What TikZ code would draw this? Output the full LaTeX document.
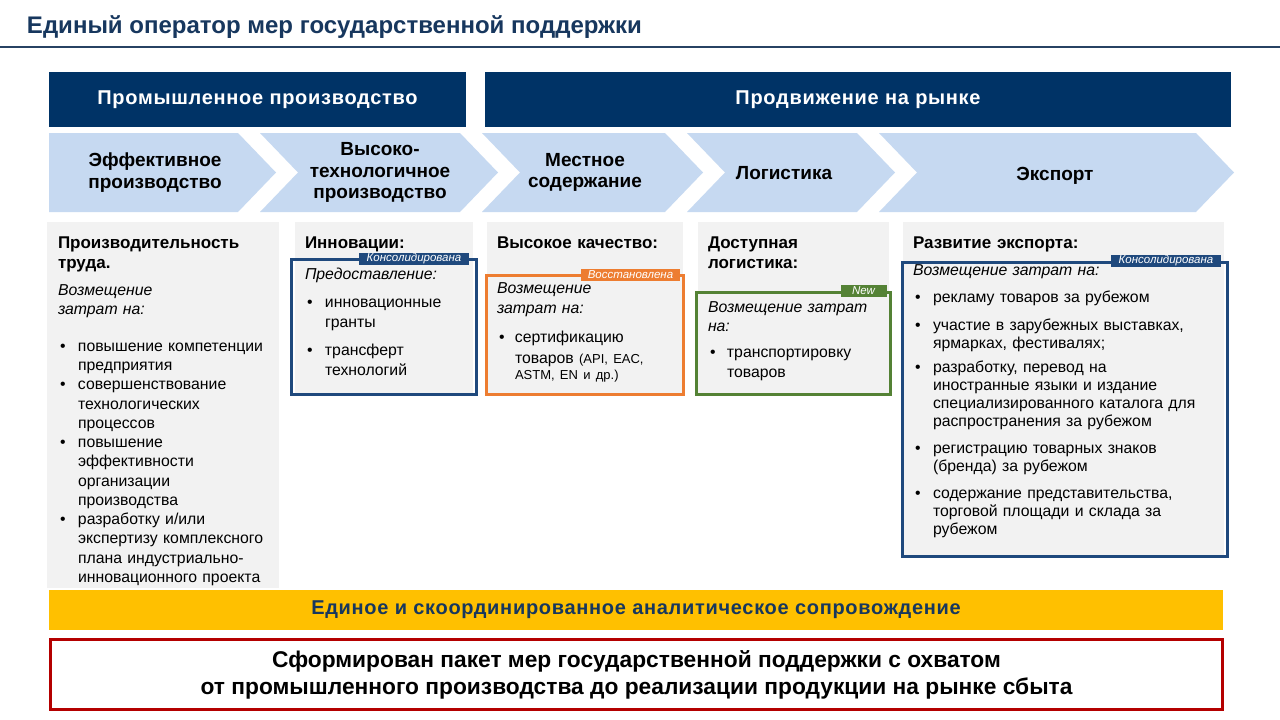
\documentclass[tikz,border=0pt]{standalone}
\usepackage{fontspec}
\setmainfont{Liberation Sans}
\usetikzlibrary{positioning}

\definecolor{donkerblauw}{HTML}{003366}
\definecolor{titelblauw}{HTML}{17375E}
\definecolor{pijlblauw}{HTML}{C6D9F1}
\definecolor{vakgrijs}{HTML}{F2F2F2}
\definecolor{randblauw}{HTML}{1F497D}
\definecolor{randoranje}{HTML}{ED7D31}
\definecolor{randgroen}{HTML}{548235}
\definecolor{balkgeel}{HTML}{FFC000}
\definecolor{randrood}{HTML}{B40000}

\setlength{\parindent}{0pt}
\newlength{\puntin}
\setlength{\puntin}{20pt}
\makeatletter
\newcommand{\punt}[1]{\par\hangindent=\puntin\hangafter=1\noindent\makebox[\puntin][l]{\hspace{2pt}•}{\let\\\@normalcr #1}\par}
\makeatother
\newcommand{\extra}[1]{\par\vspace{#1}}

\begin{document}
\begin{tikzpicture}[
		x=1pt, y=-1pt,
		every node/.style={inner sep=0pt, outer sep=0pt},
		% Stijlen
		kop/.style={fill=donkerblauw, text=white, minimum height=55, font=\fontsize{20}{22}\selectfont\bfseries\addfontfeature{LetterSpace=3.5}},
		pijl/.style={fill=pijlblauw},
		pijltekst/.style={align=center, font=\fontsize{19}{21.5}\selectfont\bfseries},
		vak/.style={fill=vakgrijs},
		kader/.style={draw=#1, line width=3pt},
		stempel/.style={fill=#1, text=white, minimum height=12, font=\fontsize{11.5}{12}\selectfont\itshape},
		kopje/.style={anchor=base west, align=left, text width=225, font=\fontsize{17}{20}\selectfont\bfseries},
		tekst/.style={anchor=base west, align=left, text width=300, font=\fontsize{15.8}{19.25}\selectfont}
	]

	% --- Canvas ---
	\useasboundingbox (0,0) rectangle (1280,720);
	\fill[white] (0,0) rectangle (1280,720);

	% --- 1. TITEL ---
	\node[anchor=base west, text=titelblauw, font=\fontsize{24}{28}\selectfont\bfseries] (Titel) at (27,33) {Единый оператор мер государственной поддержки};
	\draw[line width=2pt, titelblauw!85!gray] (0,47) -- (1280,47);

	% --- 2. KOPBALKEN ---
	\node[kop, minimum width=417] (KopIndustrie) at (257.5,99.5) {Промышленное производство};
	\node[kop, minimum width=746] (KopMarkt) at (858,99.5) {Продвижение на рынке};

	% --- 3. PIJLEN ---
	\def\pTop{133}   % Bovenkant pijl
	\def\pBot{212}   % Onderkant pijl
	\def\pMid{172.5} % Punt
	\def\pD{38}      % Diepte punt
	% eerste pijl heeft een vlakke linkerkant
	\fill[pijl] (49,\pTop) -- (238,\pTop) -- (238+\pD,\pMid) -- (238,\pBot) -- (49,\pBot) -- cycle;
	\foreach \l/\r in {260/460, 482/665, 687/857, 879/1196}
		\fill[pijl] (\l,\pTop) -- (\r,\pTop) -- (\r+\pD,\pMid) -- (\r,\pBot) -- (\l,\pBot) -- (\l+\pD,\pMid) -- cycle;

	\node[pijltekst] (PijlEffectief) at (155,\pMid) {Эффективное\\производство};
	\node[pijltekst] (PijlHightech) at (380,\pMid) {Высоко-\\технологичное\\производство};
	\node[pijltekst] (PijlLokaal) at (585,\pMid) {Местное\\содержание};
	\node[pijltekst] (PijlLogistiek) at (784,173.5) {Логистика};
	\node[pijltekst] (PijlExport) at (1055,176) {Экспорт};

	% --- 4. KOLOMMEN ---
	\fill[vak] (47,222) rectangle (279,588);
	\fill[vak] (295,222) rectangle (473,395);
	\fill[vak] (487,222) rectangle (683,395);
	\fill[vak] (698,222) rectangle (889,395);
	\fill[vak] (903,222) rectangle (1224,557);

	% kaders rond de maatregelen
	\draw[kader=randblauw] (291.5,259) rectangle (476.5,394.5);
	\draw[kader=randoranje] (486.5,275) rectangle (683.5,394.5);
	\draw[kader=randgroen] (696,292) rectangle (890.5,394.5);
	\draw[kader=randblauw] (902.5,262) rectangle (1227.5,556);

	% stempels op de kaders
	\node[stempel=randblauw, minimum width=110] (StempelInnovatie) at (414,258.5) {Консолидирована};
	\node[stempel=randoranje, minimum width=99] (StempelKwaliteit) at (630.5,275) {Восстановлена};
	\node[stempel=randgroen, minimum width=46] (StempelLogistiek) at (863.5,291) {New};
	\node[stempel=randblauw, minimum width=110] (StempelExport) at (1166,261) {Консолидирована};

	% Kolom 1
	\node[kopje] (KopArbeid) at (58,248) {Производительность\\труда.};
	\node[tekst] (TekstArbeid) at (58,295) {{\itshape Возмещение\\затрат на:}\extra{17.75pt}
		\punt{повышение компетенции\\предприятия}
		\punt{совершенствование\\технологических\\процессов}
		\punt{повышение\\эффективности\\организации\\производства}
		\punt{разработку и/или\\экспертизу комплексного\\плана индустриально-\\инновационного проекта}};

	% Kolom 2
	\node[kopje] (KopInnovatie) at (305,248) {Инновации:};
	\node[tekst, font=\fontsize{15.8}{20}\selectfont] (TekstInnovatie) at (305,279) {{\itshape Предоставление:}\extra{8pt}
		\punt{инновационные\\гранты}\extra{8pt}
		\punt{трансферт\\технологий}};

	% Kolom 3
	\node[kopje] (KopKwaliteit) at (497,248) {Высокое качество:};
	\node[tekst, font=\fontsize{15.8}{20.5}\selectfont] (TekstKwaliteit) at (497,293) {\setlength{\puntin}{18pt}{\itshape Возмещение\\затрат на:}\extra{8.5pt}
		\punt{сертификацию\\товаров {\fontsize{13}{15}\selectfont (API, EAC,}\\[-4.5pt]{\fontsize{13}{15}\selectfont ASTM, EN и др.)}}};

	% Kolom 4
	\node[kopje] (KopLogistiek) at (708,248) {Доступная\\логистика:};
	\node[tekst, font=\fontsize{15.8}{19.5}\selectfont] (TekstLogistiek) at (708,312) {\setlength{\puntin}{19pt}{\itshape Возмещение затрат\\на:}\extra{6.5pt}
		\punt{транспортировку\\товаров}};

	% Kolom 5
	\node[kopje] (KopExport) at (913,248) {Развитие экспорта:};
	\node[tekst, font=\fontsize{15.8}{18}\selectfont] (TekstExport) at (913,275) {{\itshape Возмещение затрат на:}\extra{9.7pt}
		\punt{рекламу товаров за рубежом}\extra{9.3pt}
		\punt{участие в зарубежных выставках,\\ярмарках, фестивалях;}\extra{6.7pt}
		\punt{разработку, перевод на\\иностранные языки и издание\\специализированного каталога для\\распространения за рубежом}\extra{8.3pt}
		\punt{регистрацию товарных знаков\\(бренда) за рубежом}\extra{9.3pt}
		\punt{содержание представительства,\\торговой площади и склада за\\рубежом}};

	% --- 5. ONDERKANT ---
	\node[fill=balkgeel, minimum width=1174, minimum height=40, text=titelblauw, font=\fontsize{20}{22}\selectfont\bfseries\addfontfeature{LetterSpace=3.5}] (BalkAnalyse) at (636,610) {Единое и скоординированное аналитическое сопровождение};
	\node[draw=randrood, line width=3pt, minimum width=1172, minimum height=70, align=center, font=\fontsize{22.75}{27}\selectfont\bfseries] (Conclusie) at (636.5,674.5) {Сформирован пакет мер государственной поддержки с охватом\\от промышленного производства до реализации продукции на рынке сбыта};

\end{tikzpicture}
\end{document}
